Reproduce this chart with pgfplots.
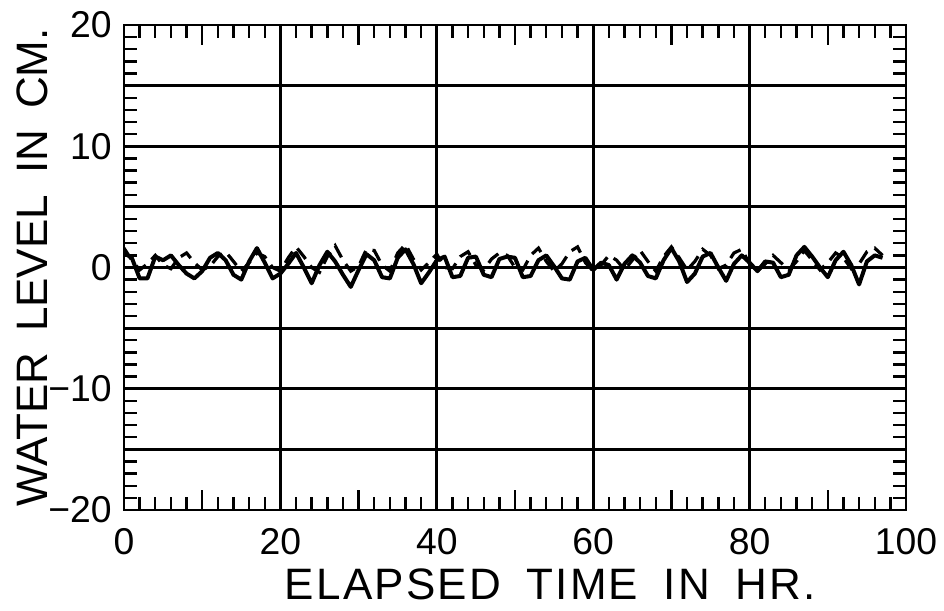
\documentclass[border=0pt]{standalone}
\usepackage{fontspec}
\setmainfont{Liberation Sans}
\usepackage{pgfplots}
\pgfplotsset{compat=1.18}
\begin{document}
\begin{tikzpicture}
\begin{axis}[
  name=ax,
  scale only axis, width=586.5pt, height=363.75pt,
  xmin=0, xmax=100, ymin=-20, ymax=20,
  xtick={0,20,...,100}, ytick={-20,-10,...,20},
  yticklabels={−20,−10,0,10,20},
  minor x tick num=9, minor y tick num=9,
  extra x ticks={10,30,50,70,90}, extra x tick labels={},
  extra x tick style={grid=none, major tick length=15pt},
  extra y ticks={-15,-5,5,15}, extra y tick labels={},
  extra y tick style={grid=major},
  grid=major,
  major grid style={black, line width=2.2pt},
  axis line style={line width=2.2pt},
  major tick length=0pt, minor tick length=10pt,
  every tick/.style={black, line width=1.8pt},
  tick align=inside,
  /pgf/number format/assume math mode=true,
  ticklabel style={font=\fontsize{28}{32}\selectfont},
  xticklabel style={anchor=center, yshift=-24pt},
  yticklabel style={inner sep=0pt, xshift=-9pt},
  xlabel={ELAPSED\hspace{0.25em} TIME\hspace{0.25em} IN\hspace{0.25em} HR.},
  ylabel={WATER\hspace{0.2em} LEVEL\hspace{0.2em} IN\hspace{0.2em} CM.},
  xlabel style={font=\fontsize{33}{36}\selectfont\addfontfeatures{LetterSpace=5}, inner sep=0pt,
    at={(rel axis cs:0.545,0)}, anchor=center, yshift=-56pt},
  ylabel style={font=\fontsize{33}{36}\selectfont, inner sep=0pt,
    at={(rel axis cs:0,0.5)}, anchor=center, yshift=69pt},
]
\addplot[black, line width=3pt, line join=round] coordinates {
(0,1.2)(1,0.8)(2,-0.9)(3,-0.9)(4,0.9)(5,0.6)(6,1.0)(7,0.2)(8,-0.5)(9,-0.9)
(10,-0.3)(11,0.8)(12,1.2)(13,0.6)(14,-0.6)(15,-1.0)(16,0.5)(17,1.6)(18,0.4)(19,-0.9)
(20,-0.5)(21,0.3)(22,1.2)(23,0.0)(24,-1.3)(25,0.2)(26,1.3)(27,0.5)(28,-0.6)(29,-1.6)
(30,-0.2)(31,1.1)(32,0.6)(33,-0.8)(34,-0.9)(35,0.8)(36,1.5)(37,0.3)(38,-1.3)(39,-0.4)
(40,0.6)(41,0.9)(42,-0.8)(43,-0.7)(44,0.8)(45,0.9)(46,-0.6)(47,-0.8)(48,0.7)(49,0.9)
(50,0.8)(51,-0.8)(52,-0.7)(53,0.6)(54,1.0)(55,0.1)(56,-0.9)(57,-1.0)(58,0.5)(59,0.8)
(60,-0.2)(61,0.4)(62,0.2)(63,-1.0)(64,0.3)(65,1.0)(66,0.4)(67,-0.7)(68,-0.9)(69,0.6)
(70,1.6)(71,0.5)(72,-1.2)(73,-0.5)(74,0.9)(75,1.2)(76,0.0)(77,-1.1)(78,0.3)(79,1.0)
(80,0.4)(81,-0.3)(82,0.5)(83,0.4)(84,-0.8)(85,-0.6)(86,1.0)(87,1.7)(88,0.9)(89,0.0)
(90,-0.8)(91,0.6)(92,1.3)(93,0.2)(94,-1.4)(95,0.5)(96,1.0)(97,0.8)
};
\addplot[black, line width=2.4pt, dash pattern=on 10pt off 6pt] coordinates {
(0,1.6)(1,0.6)(2,-0.2)(3,0.3)(4,1.0)(5,0.2)(6,-0.1)(7,0.8)(8,1.2)(9,0.4)
(10,-0.2)(11,0.1)(12,0.9)(13,1.3)(14,0.5)(15,-0.3)(16,0.4)(17,1.2)(18,0.9)(19,0.0)
(20,-0.3)(21,0.8)(22,1.7)(23,0.9)(24,0.0)(25,-0.4)(26,0.9)(27,1.8)(28,0.6)(29,-0.3)
(30,0.1)(31,1.5)(32,1.4)(33,0.2)(34,-0.3)(35,1.2)(36,1.9)(37,0.7)(38,-0.2)(39,0.4)
(40,1.1)(41,0.0)(42,-0.1)(43,0.9)(44,1.3)(45,0.2)(46,-0.2)(47,0.7)(48,1.2)(49,1.0)
(50,0.0)(51,-0.2)(52,1.0)(53,1.6)(54,0.5)(55,-0.3)(56,0.3)(57,1.3)(58,1.7)(59,0.4)
(60,-0.3)(61,0.2)(62,1.0)(63,0.6)(64,-0.2)(65,0.6)(66,1.4)(67,0.5)(68,-0.3)(69,0.9)
(70,1.7)(71,0.8)(72,-0.2)(73,0.5)(74,1.5)(75,1.0)(76,-0.1)(77,0.2)(78,1.2)(79,1.5)
(80,0.3)(81,-0.3)(82,0.3)(83,1.0)(84,0.4)(85,-0.2)(86,0.5)(87,1.4)(88,0.6)(89,-0.2)
(90,0.4)(91,1.2)(92,0.8)(93,-0.1)(94,0.3)(95,1.3)(96,1.6)(97,1.0)
};
\end{axis}
\path (ax.south west) ++(-93pt,-75pt);
\path (ax.north east) ++(28.5pt,18.75pt);
\end{tikzpicture}
\end{document}
